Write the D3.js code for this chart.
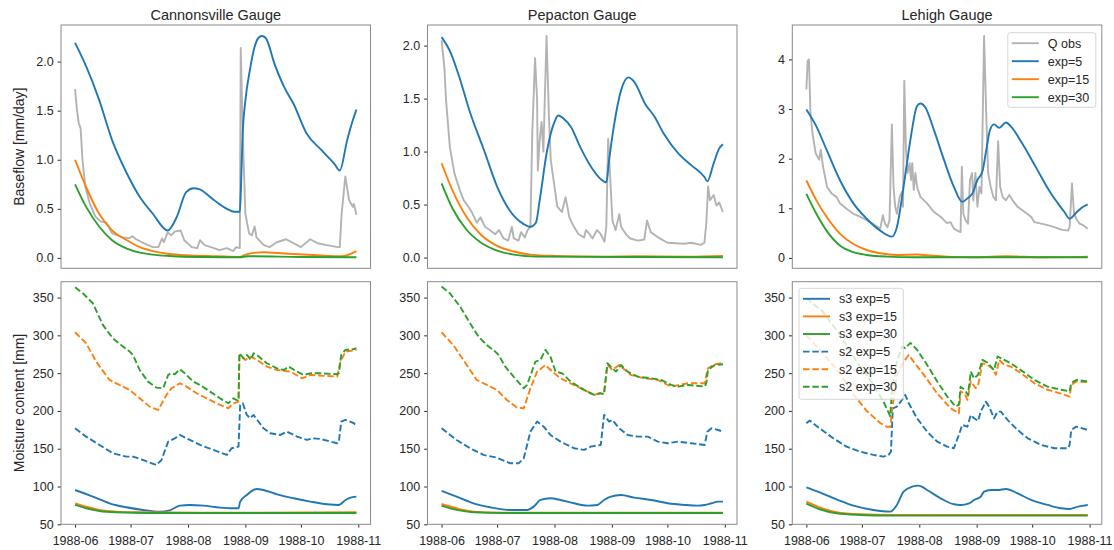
<!DOCTYPE html>
<html>
<head>
<meta charset="utf-8">
<script src="https://cdn.jsdelivr.net/npm/d3@7"></script>
<style>
  body { margin: 0; background: #fff; }
  svg { display: block; font-family: "Liberation Sans", Arial, sans-serif; }
</style>
</head>
<body>
<svg id="chart" width="1114" height="550"></svg>
<script>
// day offsets are counted from 1988-06-01

const gauges = ['Cannonsville Gauge', 'Pepacton Gauge', 'Lehigh Gauge']
const baseflowNames = ['Q obs', 'exp=5', 'exp=15', 'exp=30']
const moistureNames = ['s3 exp=5', 's3 exp=15', 's3 exp=30', 's2 exp=5', 's2 exp=15', 's2 exp=30']
const baseflowTicks = [[0, 0.5, 1, 1.5, 2], [0, 0.5, 1, 1.5, 2], [0, 1, 2, 3, 4]]
const moistureTicks = [50, 100, 150, 200, 250, 300, 350]
const moistureLim = [50, 371]
const monthTicks = ['1988-06-01', '1988-07-01', '1988-08-01', '1988-09-01', '1988-10-01', '1988-11-01']

// ---- Cannonsville ----
const cannonQobs = [[0,1.72],[1,1.51],[2,1.37],[3,1.32],[4,1.00],[5.6,0.72],[8,0.55],[11,0.42],[14,0.37],[17,0.36],[20,0.25],[26,0.21],[29,0.20],[31,0.22],[33,0.19],[37,0.15],[42,0.11],[45,0.11],[47,0.20],[48,0.16],[50,0.26],[52,0.23],[54,0.27],[57,0.28],[59,0.18],[63,0.11],[66,0.10],[67.5,0.18],[70,0.13],[75,0.10],[78,0.08],[82,0.10],[85.5,0.07],[87,0.11],[89,0.10],[89.5,2.14],[90.6,1.27],[92,0.45],[94,0.25],[95.5,0.23],[97,0.32],[98,0.21],[102,0.13],[105,0.11],[109,0.16],[114,0.19],[118,0.15],[122,0.11],[127,0.19],[131,0.15],[136,0.13],[142,0.11],[143,0.11],[144,0.45],[146,0.83],[148,0.59],[150,0.52],[150.6,0.55],[152,0.44]]
const cannonExp5 = [[0,2.19],[6,1.95],[13,1.61],[20,1.20],[28,0.86],[35,0.62],[42,0.45],[50,0.28],[55,0.42],[60,0.67],[64,0.71],[67,0.70],[75,0.59],[82,0.50],[86,0.47],[89,0.47],[89.5,0.65],[90.5,1.25],[92,1.60],[94.5,1.92],[97,2.15],[99,2.24],[101,2.26],[103,2.24],[105,2.15],[107,2.02],[113,1.74],[118,1.57],[125,1.27],[133,1.10],[140,0.96],[143,0.89],[147,1.20],[150,1.40],[152,1.51]]
const cannonExp15 = [[0,1.00],[6,0.72],[13,0.45],[20,0.28],[28,0.18],[35,0.11],[42,0.07],[49,0.045],[60,0.027],[77,0.017],[89,0.01],[92,0.034],[102,0.058],[113,0.045],[131,0.027],[144,0.017],[152,0.07]]
const cannonExp30 = [[0,0.75],[6,0.52],[13,0.32],[20,0.18],[28,0.095],[35,0.054],[42,0.034],[53,0.017],[67,0.01],[89,0.007],[93,0.017],[122,0.01],[152,0.007]]
const cannonS3e5 = [[0,95.4],[9.6,86.6],[18.6,77.8],[27.7,72.5],[36.7,69.0],[45.8,66.8],[51.2,68.5],[56.6,74.7],[62,75.6],[69.3,74.7],[78.3,72.1],[85.5,71.2],[88.3,71.2],[89.2,80.0],[92.8,88.8],[98.2,96.8],[101.8,95.4],[109.1,89.7],[118.1,84.4],[127.1,80.0],[136.2,76.5],[142.5,75.6],[146.1,82.2],[149.8,86.0],[152,86.6]]
const cannonS3e15 = [[0,77.8],[6,73.4],[13.2,69.0],[22.2,66.8],[34.9,65.9],[67.5,65.4],[152,65.9]]
const cannonS3e30 = [[0,75.6],[6,71.2],[13.2,67.6],[22.2,65.9],[40.3,65.0],[152,65.0]]
const cannonS2e5 = [[0,177.0],[6,166.0],[13.2,155.0],[20.4,144.0],[27.7,139.5],[31.3,139.5],[36.7,135.1],[43.9,128.5],[46.7,135.1],[50.3,159.4],[53.9,163.8],[56.6,168.2],[62,161.6],[67.5,155.0],[74.7,148.4],[82,141.8],[84.6,150.6],[88.3,152.8],[89.2,207.9],[90.6,210.1],[92.8,194.7],[94.6,190.3],[96.4,194.7],[101.8,177.0],[105.4,170.4],[110.9,168.2],[114.5,172.6],[119.9,166.0],[125.3,161.6],[128.1,163.8],[132.6,162.9],[141.6,157.2],[142.5,159.4],[143.8,185.9],[146.1,188.1],[150.7,183.7],[152,179.2]]
const cannonS2e15 = [[0,304.1],[6,289.5],[11.4,265.3],[18.6,241.0],[24,234.4],[29.5,227.8],[34.9,216.7],[40.3,205.7],[44.9,201.3],[49.4,221.2],[52.1,230.0],[56.6,236.6],[60.2,232.2],[65.7,223.4],[71.1,216.7],[78.3,207.9],[82.8,203.5],[85.5,210.1],[88.3,212.3],[88.8,274.1],[91.9,267.5],[95,271.9],[98.2,267.5],[103.6,258.6],[109.1,254.2],[116.3,252.0],[122.6,243.2],[127.1,247.6],[141.6,245.4],[143.4,265.3],[146.1,278.5],[152,280.7]]
const cannonS2e30 = [[0,363.6],[4.2,355.7],[9.6,342.5],[15,313.8],[20.4,296.1],[25.9,285.1],[29.5,278.5],[31.3,274.1],[34.9,254.2],[39.4,238.8],[43.9,230.9],[47.6,230.0],[50.3,247.6],[52.1,249.8],[53.9,248.5],[56.6,255.1],[59.3,249.8],[63.8,238.8],[67.5,234.4],[72.9,225.6],[78.3,216.7],[82.8,210.1],[85.5,216.7],[88.3,213.2],[88.8,276.3],[91,269.7],[92.8,274.1],[95,267.5],[96.4,276.3],[98.2,274.1],[103.6,263.1],[109.1,256.4],[112.7,254.2],[115.4,258.6],[119.9,252.0],[123.5,247.6],[127.1,249.8],[132.6,249.8],[141.6,248.5],[142.5,249.8],[143.8,274.1],[146.1,280.7],[150.7,282.0],[152,282.9]]

// ---- Pepacton ----
const pepacQobs = [[0,2.05],[1.5,1.80],[2.4,1.49],[4.5,1.04],[7,0.79],[10,0.63],[12,0.54],[14.5,0.48],[16,0.44],[19,0.33],[21,0.38],[23.5,0.29],[26,0.26],[29,0.22],[31,0.26],[33.5,0.18],[36,0.16],[38,0.29],[39,0.18],[41.5,0.16],[43,0.24],[45,0.19],[46.5,0.26],[48,0.29],[49,1.17],[50.5,1.88],[51.6,1.49],[52,0.82],[53,1.11],[54,1.28],[55,1.00],[56.7,2.09],[58,1.33],[59,0.92],[61,0.67],[62.5,0.48],[65,0.43],[67,0.57],[69,0.38],[71.5,0.29],[74,0.22],[77,0.19],[78,0.26],[80,0.22],[81.5,0.18],[84,0.26],[86,0.22],[88,0.15],[89,0.29],[90,1.12],[91,0.79],[92.3,0.35],[94,0.26],[96,0.41],[97,0.29],[99.6,0.22],[102,0.18],[106,0.16],[109.5,0.17],[111,0.35],[113,0.24],[117,0.19],[122,0.14],[131,0.13],[135,0.14],[140,0.12],[142,0.14],[143,0.32],[144,0.67],[145,0.54],[147,0.59],[148.5,0.49],[150,0.52],[152,0.43]]
const pepacExp5 = [[0,2.08],[5,1.93],[10,1.68],[15,1.39],[23,1.01],[30,0.67],[37,0.44],[44,0.32],[48,0.29],[51,0.33],[53,0.54],[57,1.01],[61,1.28],[63,1.34],[66,1.31],[70,1.23],[75,1.04],[81,0.85],[86,0.74],[89,0.71],[90.5,0.92],[93,1.23],[97,1.58],[101,1.70],[104,1.66],[110,1.45],[115,1.33],[120,1.17],[128,0.98],[135,0.87],[142,0.76],[143.6,0.72],[147,0.89],[150,1.03],[152,1.07]]
const pepacExp15 = [[0,0.89],[6,0.63],[13.6,0.38],[21,0.22],[30,0.11],[39,0.057],[48,0.028],[61,0.016],[88,0.009],[106,0.013],[133,0.009],[152,0.016]]
const pepacExp30 = [[0,0.70],[6,0.46],[13.6,0.26],[21,0.145],[30,0.066],[39,0.028],[51.6,0.009],[152,0.003]]
const pepacS3e5 = [[0,94.1],[8.1,86.6],[17.2,77.8],[26.3,72.5],[37.1,69.0],[46.2,69.0],[49.8,73.4],[53.4,82.2],[58.8,84.4],[64.3,82.2],[71.5,77.8],[78.8,74.7],[84.2,75.6],[87.8,82.2],[91.4,86.6],[96.9,88.8],[104.1,85.3],[113.2,82.2],[122.2,77.8],[131.3,75.6],[138.5,74.7],[142.1,75.6],[145.8,77.8],[149.4,80.0],[152,80.0]]
const pepacS3e15 = [[0,76.9],[8.1,71.2],[17.2,66.8],[29.9,65.4],[152,65.4]]
const pepacS3e30 = [[0,74.7],[8.1,69.0],[17.2,65.9],[33.5,65.0],[152,65.0]]
const pepacS2e5 = [[0,177.0],[8.1,161.6],[15.4,150.6],[22.6,141.8],[29.9,138.2],[37.1,130.7],[41.6,130.7],[44.4,137.3],[48,172.6],[51.6,185.9],[55.2,179.2],[58.8,168.2],[64.3,159.4],[71.5,150.6],[77,148.4],[80.6,152.8],[86,155.0],[87.8,194.7],[90.5,185.9],[92.3,188.1],[95.9,177.0],[100.5,168.2],[105.9,166.0],[111.4,166.0],[116.8,159.4],[122.2,157.2],[127.7,159.4],[134.9,157.2],[142.1,155.0],[143.6,172.6],[145.8,177.0],[149.4,174.8],[152,172.6]]
const pepacS2e15 = [[0,304.1],[6.3,287.3],[13.6,260.8],[19,241.0],[24.4,234.4],[29.9,227.8],[35.3,214.5],[40.7,204.4],[44.4,203.5],[48,230.0],[51.6,252.0],[56.1,260.8],[59.8,252.0],[64.3,243.2],[69.7,236.6],[77,227.8],[82.4,221.2],[87.8,225.6],[89.6,260.8],[92.3,254.2],[95.9,260.8],[102.3,247.6],[109.5,243.2],[116.8,241.0],[124,232.2],[133.1,236.6],[142.1,236.6],[143.9,256.4],[147.6,261.7],[152,263.1]]
const pepacS2e30 = [[0,364.5],[4.5,355.7],[10,338.1],[15.4,316.0],[19.9,298.4],[24.4,287.3],[29,278.5],[30.8,274.1],[34.4,258.6],[38.9,245.4],[44.4,230.0],[46.2,234.4],[50.7,265.3],[53.4,267.5],[56.1,280.7],[58.8,271.9],[61.6,252.0],[65.2,249.8],[69.7,238.8],[77,227.8],[82.4,221.2],[86,223.4],[87.8,222.0],[89.6,263.1],[91.4,258.6],[94.2,252.0],[96.9,260.8],[100.5,252.0],[105.9,245.4],[113.2,243.2],[118.6,241.0],[124,234.4],[127.7,232.2],[133.1,234.4],[142.1,232.2],[143,236.6],[143.9,254.2],[147.6,260.8],[152,261.7]]

// ---- Lehigh ----
const lehighQobs = [[0,3.40],[0.7,3.97],[1.4,4.0],[2.2,2.92],[3.3,2.52],[5,2.11],[6.9,1.98],[7.8,2.18],[9,1.84],[11.2,1.43],[13.6,1.30],[16.3,1.23],[18.1,1.10],[21.7,0.99],[25.4,0.89],[29,0.83],[32.6,0.76],[36.2,0.68],[39.9,0.59],[41.3,0.86],[42.6,0.68],[43.8,0.62],[44.9,0.76],[46.2,2.69],[47.1,1.43],[48,1.03],[48.9,0.89],[50.4,1.23],[51.6,1.33],[52.2,1.03],[52.9,3.57],[53.8,2.18],[54.7,1.71],[55.8,1.91],[56.5,1.57],[57.2,1.91],[58,1.37],[58.9,1.71],[59.8,1.43],[61.6,1.23],[65.2,1.10],[68.8,0.93],[72.5,0.83],[76,0.70],[77.9,0.72],[79.7,0.59],[81.5,0.55],[83.3,0.52],[84,1.84],[84.8,0.89],[86,0.76],[87.3,0.69],[88.4,1.57],[89.5,1.71],[90.2,1.16],[91.3,1.71],[92.4,1.03],[93.5,1.43],[94.6,1.30],[96,4.47],[97.1,2.99],[98.2,1.71],[99.6,1.43],[101,1.23],[102.4,1.16],[103.6,2.35],[104.7,1.43],[106,1.23],[107.8,1.16],[109.6,1.27],[111.4,1.16],[114.1,1.03],[117.8,0.93],[121.4,0.83],[123.2,0.72],[126.8,0.69],[130.4,0.66],[134,0.62],[137.7,0.57],[141.3,0.55],[142.2,0.62],[143.5,1.50],[144.6,0.89],[145.8,0.79],[147.6,0.69],[149.5,0.66],[151,0.62],[152,0.59]]
const lehighExp5 = [[0,2.99],[5.4,2.65],[10.9,2.18],[18.1,1.57],[25.4,1.10],[32.6,0.79],[39.9,0.55],[46.2,0.43],[48.9,0.62],[52.5,1.43],[56.2,2.38],[59.8,3.06],[61.6,3.11],[64.3,3.03],[68.8,2.59],[74.3,1.98],[79.7,1.43],[84.2,1.13],[87,1.20],[89.7,1.30],[92.4,1.57],[95.1,1.74],[96.9,2.11],[99.3,2.59],[101.4,2.69],[104.2,2.62],[107.8,2.73],[110.5,2.65],[115.9,2.35],[121.4,2.0],[126.8,1.64],[131.3,1.35],[135.9,1.10],[139.5,0.92],[142.2,0.79],[146,0.92],[149.5,1.03],[152,1.08]]
const lehighExp15 = [[0,1.56],[5.4,1.16],[10.9,0.83],[18.1,0.49],[25.4,0.28],[32.6,0.16],[39.9,0.095],[48.9,0.06],[59.8,0.068],[65.2,0.054],[76,0.027],[90.6,0.014],[108.7,0.034],[126.8,0.014],[152,0.027]]
const lehighExp30 = [[0,1.29],[5.4,0.89],[10.9,0.55],[18.1,0.25],[25.4,0.115],[32.6,0.06],[43.5,0.027],[58,0.014],[152,0.014]]
const lehighS3e5 = [[0,99.0],[7.2,92.3],[16.3,83.1],[25.4,74.7],[36.2,69.0],[45.3,66.8],[48.9,75.6],[52.5,93.2],[57.1,99.8],[60.7,101.2],[65.2,95.4],[72.5,84.4],[79.7,76.5],[83.3,75.6],[87.9,77.8],[90.6,82.2],[94.2,86.6],[96,93.2],[99.6,95.4],[103.3,95.4],[107.8,96.8],[114.1,91.0],[121.4,82.2],[130.4,75.6],[137.7,71.2],[142.2,70.3],[146.7,73.4],[152,75.6]]
const lehighS3e15 = [[0,80.0],[7.2,72.5],[16.3,65.9],[29,63.2],[45.3,62.4],[152,62.4]]
const lehighS3e30 = [[0,77.3],[7.2,69.9],[16.3,64.6],[29,62.4],[45.3,61.5],[152,61.5]]
const lehighS2e5 = [[0,183.7],[1.8,187.2],[7.2,177.0],[14.5,163.8],[21.7,152.8],[29,146.2],[36.2,141.8],[41.7,139.5],[44.4,141.8],[45.7,146.2],[46.7,203.5],[48.9,205.7],[51.6,214.5],[53.4,221.2],[55.3,210.1],[59.8,190.3],[65.2,172.6],[70.7,159.4],[76.1,152.8],[79.7,150.6],[82.4,168.2],[84.2,181.5],[87,179.2],[88.8,194.7],[90.6,190.3],[92.8,186.8],[94.2,199.1],[96.9,212.3],[98.7,205.7],[101.4,190.3],[103.3,199.1],[105.1,199.1],[108.7,188.1],[114.1,174.8],[119.6,163.8],[126.8,155.0],[134,150.6],[141.3,150.6],[142.2,155.0],[143.1,174.8],[145.8,179.2],[152,174.8]]
const lehighS2e15 = [[0,300],[9,276],[18.1,250],[25.4,222],[32.6,200],[39.9,184],[43.5,179],[45.3,179],[46.2,199],[48.9,248],[52.5,265],[55.3,274],[58,265],[63.4,248],[70.7,223],[77.9,203.5],[82.4,197],[83.3,226],[85.5,223],[87,214.5],[88.8,239],[91.5,230],[92.8,234],[95.1,263],[97.8,261],[100.5,256],[102.4,248],[104.2,267.5],[106.9,261],[110.5,258.6],[115.9,250],[123.2,236.6],[130.4,228],[137.7,223],[142.2,219],[143.1,234],[145.8,239],[152,238]]
const lehighS2e30 = [[0,349],[9,331],[18.1,301],[27.2,265],[36.2,235],[41.7,212],[45.3,193],[46.2,225],[48.9,265],[51.6,285],[53.4,283],[56.2,290],[59.8,281],[65.2,261],[70.7,239],[76.1,219],[80.6,206],[82.4,208],[83.3,232],[85.5,228],[87.3,221],[88.8,252],[90.6,243],[92.8,248],[95.1,267.5],[97.8,264],[101.4,254],[103.3,272],[106.9,267.5],[110.5,263],[115.9,254],[123.2,241],[130.4,232],[137.7,228],[142.2,226],[143.1,237],[145.8,241],[152,239]]

const baseflowData = [
	[cannonQobs, cannonExp5, cannonExp15, cannonExp30],
	[pepacQobs, pepacExp5, pepacExp15, pepacExp30],
	[lehighQobs, lehighExp5, lehighExp15, lehighExp30]
]
const moistureData = [
	[cannonS3e5, cannonS3e15, cannonS3e30, cannonS2e5, cannonS2e15, cannonS2e30],
	[pepacS3e5, pepacS3e15, pepacS3e30, pepacS2e5, pepacS2e15, pepacS2e30],
	[lehighS3e5, lehighS3e15, lehighS3e30, lehighS2e5, lehighS2e15, lehighS2e30]
]

const blue = '#1f77b4', orange = '#ff7f0e', green = '#2ca02c', gray = '#b3b3b3'
const baseflowStyle = [
	{color: gray, dash: null, smooth: false},
	{color: blue, dash: null, smooth: true},
	{color: orange, dash: null, smooth: true},
	{color: green, dash: null, smooth: true}
]
const moistureStyle = [
	{color: blue, dash: null, smooth: true},
	{color: orange, dash: null, smooth: true},
	{color: green, dash: null, smooth: true},
	{color: blue, dash: '6.5,2.8', smooth: false},
	{color: orange, dash: '6.5,2.8', smooth: false},
	{color: green, dash: '6.5,2.8', smooth: false}
]

const startMs = Date.UTC(1988, 5, 1)
const toDate = d => new Date(startMs + d * 864e5)
const lastDay = 152
const pad = lastDay * 0.05

const colX = [61, 427.5, 792.3]
const panelW = 309.5
const topRow = {y: 25, h: 243.3}
const botRow = {y: 281.7, h: 242.6}
const textColor = '#262626'
const tickFont = '12.5px'

const svg = d3.select('#chart')

function drawPanel(x0, row, data, styles, yDomain, ticks, fmt, showX){
	const g = svg.append('g').attr('transform', 'translate(' + x0 + ',' + row.y + ')')

	const x = d3.scaleUtc()
		.domain([toDate(-pad), toDate(lastDay + pad)])
		.range([0, panelW])
	const y = d3.scaleLinear()
		.domain(yDomain)
		.range([row.h, 0])

	data.forEach((series, i) => {
		const st = styles[i]
		const line = d3.line()
			.x(d => x(toDate(d[0])))
			.y(d => y(d[1]))
			.curve(st.smooth ? d3.curveMonotoneX : d3.curveLinear)
		g.append('path')
			.datum(series)
			.attr('fill', 'none')
			.attr('stroke', st.color)
			.attr('stroke-width', 1.9)
			.attr('stroke-linejoin', 'round')
			.attr('stroke-dasharray', st.dash)
			.attr('d', line)
	})

	const yAxis = g.append('g')
		.call(d3.axisLeft(y).tickValues(ticks).tickFormat(d3.format(fmt)).tickSize(3.3).tickPadding(4))
	yAxis.select('.domain').remove()
	yAxis.selectAll('line').attr('stroke', textColor)
	yAxis.selectAll('text').attr('fill', textColor).style('font-size', tickFont)

	if(showX){
		const xAxis = g.append('g')
			.attr('transform', 'translate(0,' + row.h + ')')
			.call(d3.axisBottom(x)
				.tickValues(monthTicks.map(s => new Date(s + 'T00:00:00Z')))
				.tickFormat(d3.utcFormat('%Y-%m'))
				.tickSize(3.3).tickPadding(9))
		xAxis.select('.domain').remove()
		xAxis.selectAll('line').attr('stroke', textColor)
		xAxis.selectAll('text').attr('fill', textColor).style('font-size', tickFont)
	}

	g.append('rect')
		.attr('width', panelW)
		.attr('height', row.h)
		.attr('fill', 'none')
		.attr('stroke', '#8a8a8a')
		.attr('stroke-width', 1)
	return g
}

function drawLegend(g, names, styles, bx, by, bw, bh, rowH){
	const lg = g.append('g').attr('transform', 'translate(' + bx + ',' + by + ')')
	lg.append('rect')
		.attr('width', bw).attr('height', bh)
		.attr('rx', 2.5)
		.attr('fill', 'white').attr('fill-opacity', 0.8)
		.attr('stroke', '#d6d6d6').attr('stroke-width', 1)
	names.forEach((n, i) => {
		const cy = 10.5 + i * rowH
		lg.append('line')
			.attr('x1', 4).attr('x2', 31)
			.attr('y1', cy).attr('y2', cy)
			.attr('stroke', styles[i].color)
			.attr('stroke-width', 1.9)
			.attr('stroke-dasharray', styles[i].dash)
		lg.append('text')
			.attr('x', 40).attr('y', cy)
			.attr('dy', '0.35em')
			.attr('fill', textColor)
			.style('font-size', '12.5px')
			.text(n)
	})
}

function paddedExtent(data){
	const all = data.flat()
	const lo = d3.min(all, d => d[1]), hi = d3.max(all, d => d[1])
	const m = (hi - lo) * 0.05
	return [lo - m, hi + m]
}

gauges.forEach((name, c) => {
	const top = drawPanel(colX[c], topRow, baseflowData[c], baseflowStyle,
		paddedExtent(baseflowData[c]), baseflowTicks[c], c === 2 ? 'd' : '.1f', false)
	const bot = drawPanel(colX[c], botRow, moistureData[c], moistureStyle,
		moistureLim, moistureTicks, 'd', true)

	svg.append('text')
		.attr('x', colX[c] + panelW / 2)
		.attr('y', 20)
		.attr('text-anchor', 'middle')
		.attr('fill', textColor)
		.style('font-size', '14.5px')
		.text(name)

	if(c === 2){
		drawLegend(top, baseflowNames, baseflowStyle, panelW - 94, 7.7, 88, 74.6, 18)
		drawLegend(bot, moistureNames, moistureStyle, 6.7, 6.6, 104.3, 111, 17.6)
	}
})

svg.append('text')
	.attr('transform', 'translate(19,' + (topRow.y + topRow.h / 2) + ') rotate(-90)')
	.attr('text-anchor', 'middle')
	.attr('dy', '0.35em')
	.attr('fill', textColor)
	.style('font-size', '14px')
	.text('Baseflow [mm/day]')

svg.append('text')
	.attr('transform', 'translate(19,' + (botRow.y + botRow.h / 2) + ') rotate(-90)')
	.attr('text-anchor', 'middle')
	.attr('dy', '0.35em')
	.attr('fill', textColor)
	.style('font-size', '14px')
	.text('Moisture content [mm]')
</script>
</body>
</html>
